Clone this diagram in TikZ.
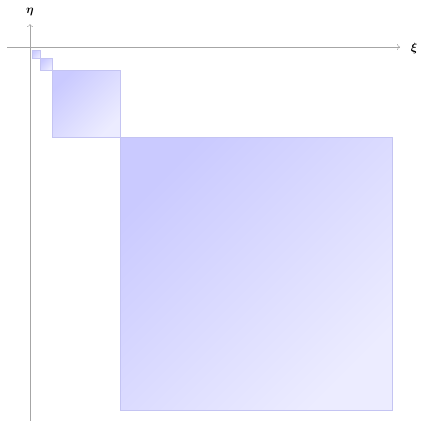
\documentclass[tikz,border=0pt]{standalone}
\usetikzlibrary{arrows.meta}
\usepackage{amsmath}
\definecolor{sqdark}{RGB}{202,202,255}
\definecolor{sqlight}{RGB}{236,236,255}
\definecolor{sqedge}{RGB}{196,196,242}
\begin{document}
\begin{tikzpicture}[x=1pt,y=-1pt,
  axis/.style={draw=gray!70, line width=0.5pt, -{To[length=3pt,width=6pt]}},
  sq/.style={draw=sqedge, line width=0.6pt, top color=sqdark, bottom color=sqlight, shading angle=45},
  lab/.style={inner sep=0pt, font=\large}]
\useasboundingbox (0,0) rectangle (421,421);
\coordinate (xs) at (7,47);
\coordinate (xe) at (400,47);
\coordinate (ys) at (30,421);
\coordinate (ye) at (30,24);
\draw[axis] (xs) -- (xe);
\draw[axis] (ys) -- (ye);
\node[lab] (xi) at (414,48) {$\boldsymbol{\xi}$};
\node[lab] (eta) at (30,12) {$\boldsymbol{\eta}$};
\shade[sq] (32.3,50) rectangle (40.7,58.3);
\shade[sq] (40.7,58.3) rectangle (52.7,70);
\shade[sq] (52.7,70) rectangle (120,137.3);
\shade[sq] (120,137.3) rectangle (392.3,410);
\end{tikzpicture}
\end{document}
